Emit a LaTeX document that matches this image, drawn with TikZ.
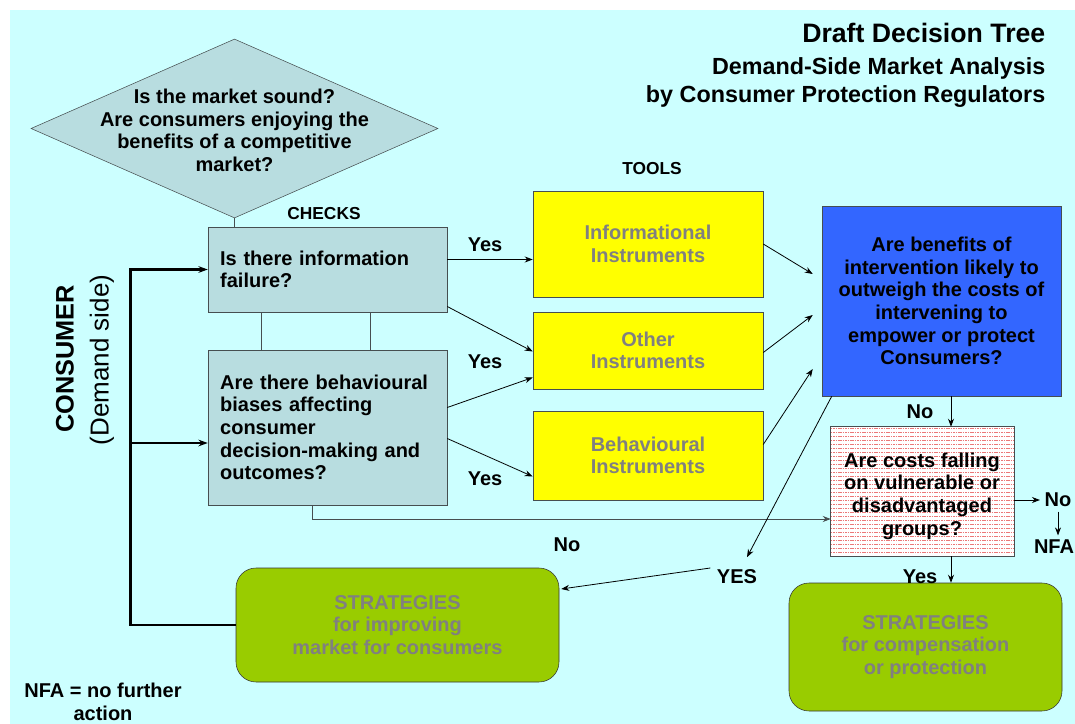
\documentclass[tikz,border=0pt]{standalone}
\usepackage{fontspec}
\setmainfont{Liberation Sans}
\usetikzlibrary{arrows.meta, shapes.geometric, positioning, calc}
\definecolor{bgcyan}     {RGB}{204, 255, 255}
\definecolor{checkgray}  {RGB}{184, 221, 224}
\definecolor{toolyellow} {RGB}{255, 255, 0}
\definecolor{valueblue}  {RGB}{51,  102, 255}
\definecolor{stratgreen} {RGB}{153, 204, 0}
\definecolor{tooltext}   {RGB}{128, 128, 128}
\definecolor{edgegray}   {RGB}{70,  78,  80}
\definecolor{hatchred}   {RGB}{235, 120, 120}

\begin{document}
\begin{tikzpicture}[x=0.75pt,y=-0.75pt,
		every node/.style={font=\bfseries\fontsize{15}{17}\selectfont},
		check/.style={draw=edgegray,fill=checkgray,align=left,inner xsep=9pt,text width=161pt,minimum width=179.25pt},
		tool/.style={draw=edgegray,fill=toolyellow,text=tooltext,align=center,minimum width=172.5pt},
		strategy/.style={draw=black!80,fill=stratgreen,text=tooltext,align=center,rounded corners=15pt},
		link/.style={-{Stealth[length=6pt,width=4.5pt]},line width=0.6pt},
		bus/.style={line width=2pt}]
	\useasboundingbox (0,0) rectangle (1075,724);
	\fill[bgcyan] (10,10) rectangle (1075,724);
	% titles
	\node[anchor=east,font=\bfseries\fontsize{20}{24}\selectfont] (title) at (1050,33) {Draft Decision Tree};
	\node[anchor=east,font=\bfseries\fontsize{17.5}{21}\selectfont] (subtitle) at (1050,68) {Demand-Side Market Analysis};
	\node[anchor=east,font=\bfseries\fontsize{17.5}{21}\selectfont] (byline) at (1050,97) {by Consumer Protection Regulators};
	% checks
	\node[diamond,draw=edgegray,fill=checkgray,minimum width=305.25pt,minimum height=134.25pt,inner sep=0pt] (market) at (234.5,128.5) {};
	\node[align=center] (markettext) at ($(market)+(0,2)$) {Is the market sound?\\Are consumers enjoying the\\benefits of a competitive\\market?};
	\node[font=\bfseries\fontsize{13}{15}\selectfont] (checks) at (324,214) {CHECKS};
	\node[font=\bfseries\fontsize{13}{15}\selectfont] (tools) at (652,169) {TOOLS};
	\node[check,minimum height=63.75pt] (infofail) at (327.5,269.5) {Is there information\\failure?};
	\node[check,minimum height=116.25pt] (biases) at (327.5,427.5) {Are there behavioural\\biases affecting\\consumer\\decision-making and\\outcomes?};
	\node[rotate=90,font=\bfseries\fontsize{19}{22}\selectfont] (consumer) at (65,359) {CONSUMER};
	\node[rotate=90,font=\fontsize{19.5}{22}\selectfont] (demandside) at (102,360) {(Demand side)};
	% tools
	\node[tool,minimum height=79.5pt] (info) at (648,244) {Informational\\Instruments};
	\node[tool,minimum height=57.75pt] (other) at (648,350.5) {Other\\Instruments};
	\node[tool,minimum height=66.75pt] (behav) at (648,455.5) {Behavioural\\Instruments};
	\node[draw=edgegray,fill=valueblue,align=center,minimum width=179.25pt,minimum height=142.5pt] (benefits) at (941.5,301) {Are benefits of\\intervention likely to\\outweigh the costs of\\intervening to\\empower or protect\\Consumers?};
	\node[fill=white,minimum width=137.25pt,minimum height=96.75pt] (costs) at (922.5,491.5) {};
	\begin{scope}
		\clip (costs.south west) rectangle (costs.north east);
		\foreach \k in {0,...,32}
			\draw[hatchred,line width=0.5pt,dash pattern=on 1.2pt off 0.6pt] ($(costs.north west)+(0,2+4*\k)$) -- ($(costs.north east)+(0,2+4*\k)$);
	\end{scope}
	\draw[edgegray] (costs.south west) rectangle (costs.north east);
	\node[align=center] (coststext) at (922,496) {Are costs falling\\on vulnerable or\\disadvantaged\\groups?};
	% strategies
	\node[strategy,minimum width=242.25pt,minimum height=85.5pt] (strat1) at (397.5,625) {STRATEGIES\\for improving\\market for consumers};
	\node[strategy,minimum width=204.75pt,minimum height=96pt] (strat2) at (925.5,647) {STRATEGIES\\for compensation\\or protection};
	% labels
	\node (yes1) at (485,245) {Yes};
	\node (yes2) at (485,362) {Yes};
	\node (yes3) at (485,479) {Yes};
	\node (nobottom) at (567,545) {No};
	\node (yesbig) at (737,577) {YES};
	\node (nomid) at (920,412) {No};
	\node (yescost) at (920,577) {Yes};
	\node (noright) at (1058,500) {No};
	\node (nfa) at (1054,547) {NFA};
	\node[align=center] (legend) at (103,702) {NFA = no further\\action};
	% connectors
	\draw[line width=0.6pt,edgegray] (market.south) -- (market.south |- infofail.north);
	\draw[line width=0.6pt,edgegray] ($(infofail.south west)+(54,0)$) -- ($(biases.north west)+(54,0)$);
	\draw[line width=0.6pt,edgegray] ($(infofail.south west)+(163,0)$) -- ($(biases.north west)+(163,0)$);
	\coordinate (bustop) at ($(infofail.west)+(-77,0)$);
	\draw[bus,-{Stealth[length=7pt,width=5pt]}] (strat1.west) -| (bustop) -- (infofail.west);
	\draw[bus,-{Stealth[length=7pt,width=5pt]}] (bustop |- {$(biases.west)+(0,15.5)$}) -- ($(biases.west)+(0,15.5)$);
	\coordinate (infoout) at ($(infofail.east)+(0,-10)$);
	\draw[link] (infoout) -- (info.west |- infoout);
	\draw[link] ($(infofail.east)+(0,37)$) -- ($(other.west)+(0,1)$);
	\draw[link] ($(biases.east)+(0,-20)$) -- ($(other.west)+(0,27)$);
	\draw[link] ($(biases.east)+(0,11)$) -- ($(behav.west)+(0,21)$);
	\draw[link] (info.east) -- ($(benefits.west)+(-9,-27)$);
	\draw[link] ($(other.east)+(0,2)$) -- ($(benefits.west)+(-9,14)$);
	\draw[link] ($(behav.east)+(0,-11)$) -- ($(benefits.west)+(-9,68)$);
	\draw[link,edgegray] ($(biases.south)+(-15.5,0)$) |- ($(costs.west)+(0,27.5)$);
	\draw[link,preaction={draw=bgcyan,-,line width=8pt,shorten <=95pt,shorten >=50pt}] ($(benefits.south west)+(10,0)$) -- ($(yesbig.north)+(10,-8)$);
	\draw[link] ($(yesbig.west)+(-2,-9)$) -- ($(strat1.east)+(2,-36)$);
	\coordinate (noout) at ($(benefits.south)+(9.5,0)$);
	\draw[link] (noout) -- (noout |- costs.north);
	\draw[link] ($(costs.east)+(0,8.5)$) -- (noright.west);
	\draw[link] (noright.south) -- (noright.south |- nfa.north);
	\coordinate (yesout) at ($(costs.south)+(28.5,0)$);
	\draw[link] (yesout) -- (yesout |- strat2.north);
\end{tikzpicture}
\end{document}
